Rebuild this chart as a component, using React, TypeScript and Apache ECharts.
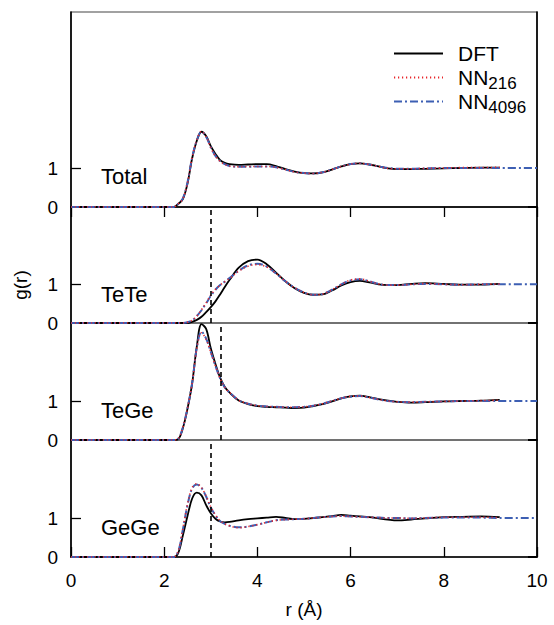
import React, { useEffect, useRef } from "react";
import * as echarts from "echarts";

const R = [0, 2.0, 2.2, 2.3, 2.4, 2.5, 2.6, 2.7, 2.8, 2.9, 3.0, 3.1, 3.2, 3.3, 3.4, 3.6, 3.8, 4.0, 4.2, 4.4, 4.6, 4.8, 5.0, 5.2, 5.4, 5.6, 5.8, 6.0, 6.2, 6.4, 6.6, 6.8, 7.0, 7.3, 7.6, 8.0, 8.4, 8.8, 9.2];
const R_TAIL = [10.0];
const TAIL = [1.0];

const totalDFT = [0, 0, 0, 0.08, 0.2, 0.6, 1.25, 1.7, 1.93, 1.82, 1.56, 1.36, 1.2, 1.13, 1.1, 1.08, 1.09, 1.1, 1.1, 1.05, 0.97, 0.91, 0.87, 0.86, 0.89, 0.96, 1.04, 1.1, 1.12, 1.09, 1.04, 0.99, 0.97, 0.97, 0.98, 0.99, 1.0, 1.01, 1.01];
const totalNN216 = [0, 0, 0, 0.08, 0.21, 0.62, 1.27, 1.72, 1.94, 1.8, 1.52, 1.3, 1.17, 1.09, 1.05, 1.03, 1.04, 1.04, 1.04, 1.02, 0.96, 0.9, 0.87, 0.86, 0.89, 0.96, 1.04, 1.1, 1.12, 1.09, 1.04, 0.99, 0.98, 0.98, 0.99, 1.0, 1.01, 1.01, 1.02];
const totalNN4096 = [0, 0, 0, 0.08, 0.22, 0.63, 1.27, 1.71, 1.93, 1.8, 1.53, 1.31, 1.18, 1.1, 1.05, 1.03, 1.03, 1.04, 1.04, 1.02, 0.96, 0.9, 0.87, 0.86, 0.89, 0.96, 1.04, 1.1, 1.12, 1.09, 1.04, 1.0, 0.98, 0.98, 0.99, 1.0, 1.0, 1.0, 1.0];

const teteDFT = [0, 0, 0, 0, 0, 0, 0.03, 0.08, 0.16, 0.28, 0.41, 0.56, 0.74, 0.93, 1.11, 1.43, 1.6, 1.64, 1.52, 1.3, 1.08, 0.9, 0.78, 0.73, 0.74, 0.84, 0.97, 1.06, 1.09, 1.05, 1.0, 0.98, 0.98, 1.01, 1.03, 1.01, 0.99, 0.99, 1.01];
const teteNN216 = [0, 0, 0, 0, 0, 0.02, 0.07, 0.18, 0.34, 0.52, 0.72, 0.87, 0.98, 1.07, 1.15, 1.34, 1.47, 1.51, 1.45, 1.28, 1.08, 0.91, 0.79, 0.73, 0.75, 0.86, 1.0, 1.11, 1.14, 1.08, 1.01, 0.98, 0.98, 1.0, 1.02, 1.0, 0.99, 1.0, 1.01];
const teteNN4096 = [0, 0, 0, 0, 0, 0.02, 0.07, 0.18, 0.33, 0.51, 0.7, 0.86, 0.98, 1.07, 1.16, 1.35, 1.49, 1.53, 1.46, 1.28, 1.08, 0.91, 0.79, 0.73, 0.75, 0.86, 1.0, 1.1, 1.13, 1.08, 1.01, 0.98, 0.98, 1.0, 1.01, 1.0, 0.99, 1.0, 1.0];

const tegeDFT = [0, 0, 0, 0.02, 0.3, 0.8, 1.45, 2.4, 2.97, 2.85, 2.35, 1.95, 1.6, 1.36, 1.22, 1.01, 0.92, 0.87, 0.85, 0.84, 0.83, 0.82, 0.83, 0.87, 0.92, 0.99, 1.07, 1.12, 1.14, 1.1, 1.05, 1.01, 0.98, 0.96, 0.97, 0.99, 1.0, 1.01, 1.03];
const tegeNN216 = [0, 0, 0, 0.03, 0.32, 0.82, 1.45, 2.35, 2.75, 2.58, 2.25, 1.9, 1.58, 1.35, 1.22, 1.02, 0.93, 0.88, 0.86, 0.85, 0.84, 0.84, 0.85, 0.88, 0.93, 1.0, 1.07, 1.12, 1.13, 1.09, 1.04, 1.0, 0.98, 0.97, 0.98, 0.99, 1.0, 1.01, 1.02];
const tegeNN4096 = [0, 0, 0, 0.03, 0.32, 0.82, 1.46, 2.37, 2.78, 2.6, 2.26, 1.9, 1.58, 1.35, 1.22, 1.02, 0.93, 0.88, 0.86, 0.85, 0.84, 0.84, 0.85, 0.88, 0.93, 1.0, 1.07, 1.11, 1.13, 1.09, 1.04, 1.0, 0.98, 0.97, 0.98, 0.99, 1.0, 1.0, 1.0];

const gegeDFT = [0, 0, 0, 0.1, 0.55, 1.05, 1.5, 1.65, 1.58, 1.33, 1.12, 0.98, 0.91, 0.89, 0.9, 0.94, 0.97, 0.99, 1.01, 1.03, 1.0, 0.97, 0.98, 1.0, 1.02, 1.05, 1.08, 1.06, 1.04, 1.02, 0.99, 0.96, 0.94, 0.96, 0.99, 1.02, 1.03, 1.04, 1.02];
const gegeNN216 = [0, 0, 0, 0.15, 0.72, 1.35, 1.78, 1.88, 1.78, 1.56, 1.28, 1.08, 0.93, 0.85, 0.8, 0.75, 0.78, 0.83, 0.89, 0.94, 0.96, 0.97, 0.98, 1.0, 1.02, 1.04, 1.05, 1.04, 1.03, 1.02, 1.01, 1.0, 1.0, 0.99, 1.0, 1.02, 1.02, 1.02, 1.01];
const gegeNN4096 = [0, 0, 0, 0.14, 0.7, 1.33, 1.76, 1.86, 1.77, 1.55, 1.27, 1.07, 0.92, 0.85, 0.8, 0.76, 0.78, 0.83, 0.89, 0.94, 0.96, 0.97, 0.98, 1.0, 1.02, 1.04, 1.05, 1.04, 1.03, 1.02, 1.01, 1.0, 1.0, 0.99, 1.0, 1.01, 1.01, 1.01, 1.0];

const panelNames = ["Total", "TeTe", "TeGe", "GeGe"];
const panelYMax = [5, 3, 3, 3];
const cutoffs = [null, 3.0, 3.22, 3.0];
const dftSets = [totalDFT, teteDFT, tegeDFT, gegeDFT];
const nn216Sets = [totalNN216, teteNN216, tegeNN216, gegeNN216];
const nn4096Sets = [totalNN4096, teteNN4096, tegeNN4096, gegeNN4096];
const xTicks = [0, 2, 4, 6, 8, 10];
const yLabelValues = [0, 1];
const seriesNames = ["DFT", "NN216", "NN4096"];

const FONT = "'Liberation Sans', Arial, Helvetica, sans-serif";

export default function App() {
  const ref = useRef<HTMLDivElement>(null);
  useEffect(() => {
    if (!ref.current) return;
    const chart = echarts.init(ref.current, null, { renderer: "svg" });
    const gridTops = [12, 207, 323, 440];
    const gridHeights = [195, 116, 117, 117];
    const grids = gridTops.map((t, i) => ({
      left: 71,
      top: t,
      width: 466,
      height: gridHeights[i],
      show: true,
      borderColor: "#444",
      borderWidth: 1.2,
      backgroundColor: "transparent",
    }));
    const xAxes = gridTops.map((_, i) => ({
      type: "value",
      gridIndex: i,
      min: 0,
      max: 10,
      interval: 2,
      position: i === 0 ? "top" : "bottom",
      axisLine: { show: i === 0 || i === 3, lineStyle: { color: "#000", width: 1.6 } },
      axisTick: {
        show: i === 0 || i === 3,
        inside: true,
        length: 10,
        lineStyle: { color: "#000", width: 1.3 },
      },
      axisLabel: {
        show: i === 3,
        fontSize: 19,
        color: "#000",
        fontFamily: FONT,
        margin: 14,
        customValues: xTicks,
      },
      splitLine: { show: false },
      name: i === 3 ? "r (Å)" : "",
      nameLocation: "middle",
      nameGap: 43,
      nameTextStyle: { fontSize: 19, color: "#000", fontFamily: FONT },
    }));
    const yAxesLeft = gridTops.map((_, i) => ({
      type: "value",
      gridIndex: i,
      min: 0,
      max: panelYMax[i],
      interval: 1,
      position: "left",
      axisLine: { show: true, lineStyle: { color: "#000", width: 1.6 } },
      axisTick: {
        show: true,
        inside: true,
        length: 10,
        customValues: [1],
        lineStyle: { color: "#000", width: 1.3 },
      },
      axisLabel: {
        show: true,
        customValues: yLabelValues,
        fontSize: 19,
        color: "#000",
        fontFamily: FONT,
        margin: 13,
      },
      splitLine: { show: false },
    }));
    const yAxesRight = gridTops.map((_, i) => ({
      type: "value",
      gridIndex: i,
      min: 0,
      max: panelYMax[i],
      interval: 1,
      position: "right",
      axisLine: { show: true, lineStyle: { color: "#000", width: 1.6 } },
      axisTick: {
        show: true,
        inside: true,
        length: 9,
        customValues: [0],
        lineStyle: { color: "#000", width: 2 },
      },
      axisLabel: { show: false },
      splitLine: { show: false },
    }));

    const series: any[] = [];
    for (let i = 0; i < 4; i++) {
      const dft = {
        name: "DFT",
        type: "line",
        xAxisIndex: i,
        yAxisIndex: i,
        symbol: "none",
        smooth: 0.35,
        lineStyle: { color: "#000", width: 1.8, type: "solid" },
        itemStyle: { color: "#000" },
        data: R.map((r, k) => [r, dftSets[i][k]]),
        markLine: cutoffs[i] != null
          ? {
              silent: true,
              symbol: "none",
              label: { show: false },
              lineStyle: { color: "#000", width: 1.6, type: [5, 4] },
              data: [{ xAxis: cutoffs[i] }],
            }
          : undefined,
        z: 2,
      };
      const nn4096 = {
        name: "NN4096",
        type: "line",
        xAxisIndex: i,
        yAxisIndex: i,
        symbol: "none",
        smooth: 0.35,
        lineStyle: { color: "#3d5fb3", width: 2, type: [8, 3, 2, 3] },
        itemStyle: { color: "#3d5fb3" },
        data: R.concat(R_TAIL).map((r, k) => [r, nn4096Sets[i].concat(TAIL)[k]]),
        z: 3,
      };
      const nn216 = {
        name: "NN216",
        type: "line",
        xAxisIndex: i,
        yAxisIndex: i,
        symbol: "none",
        smooth: 0.35,
        lineStyle: { color: "#e8262a", width: 1.6, type: [1.2, 2.8] },
        itemStyle: { color: "#e8262a" },
        data: R.map((r, k) => [r, nn216Sets[i][k]]),
        z: 4,
      };
      series.push(dft, nn4096, nn216);
    }

    const panelLabelY = [177, 295, 411, 528];
    const graphics: any[] = panelNames.map((n, i) => ({
      type: "text",
      left: 101,
      top: panelLabelY[i] - 12,
      style: { text: n, fontSize: 22, fill: "#000", fontFamily: FONT },
    }));
    graphics.push({
      type: "text",
      x: 20,
      y: 285,
      rotation: Math.PI / 2,
      style: {
        text: "g(r)",
        fontSize: 19,
        fill: "#000",
        fontFamily: FONT,
        align: "center",
        verticalAlign: "middle",
      },
    });

    chart.setOption({
      animation: false,
      backgroundColor: "#fff",
      grid: grids,
      xAxis: xAxes,
      yAxis: [...yAxesLeft, ...yAxesRight],
      legend: {
        data: seriesNames,
        orient: "vertical",
        left: 393,
        top: 39,
        padding: 0,
        itemWidth: 49,
        itemHeight: 12,
        itemGap: -5,
        selectedMode: false,
        itemStyle: { opacity: 0 },
        formatter: (name: string) =>
          name === "DFT" ? "{a|DFT}{s| }" : "{a|NN}{s|" + name.slice(2) + "}",
        textStyle: {
          color: "#000",
          fontFamily: FONT,
          rich: {
            a: { fontSize: 21, lineHeight: 22, padding: [0, 0, 0, 10], fontFamily: FONT, color: "#000" },
            s: { fontSize: 17, lineHeight: 14, padding: [12, 0, 0, 0], fontFamily: FONT, color: "#000" },
          },
        },
      },
      graphic: graphics,
      series,
    });
    return () => chart.dispose();
  }, []);
  return (
    <div
      ref={ref}
      style={{ position: "absolute", left: 0, top: 0, width: 554, height: 625 }}
    />
  );
}
